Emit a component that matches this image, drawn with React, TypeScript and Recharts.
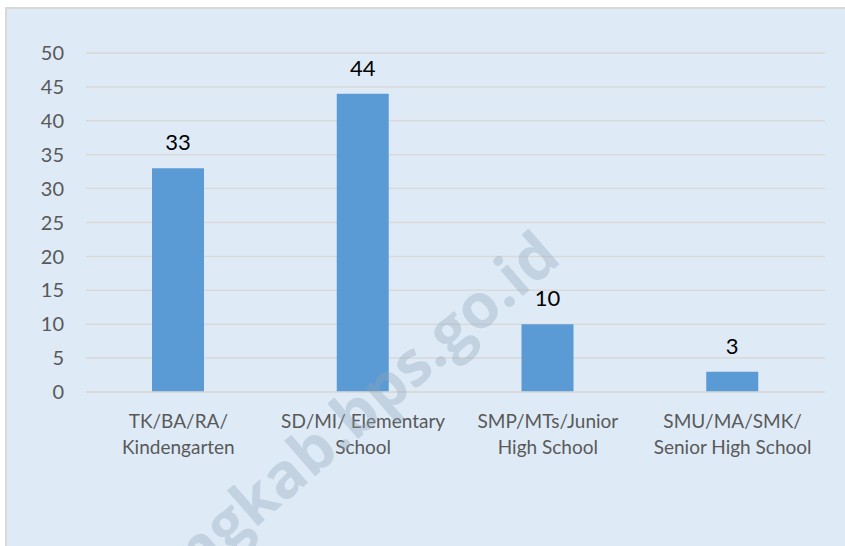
import { BarChart, Bar, XAxis, YAxis, CartesianGrid, LabelList } from "recharts";

const categories = [
  "TK/BA/RA/\nKindengarten",
  "SD/MI/ Elementary\nSchool",
  "SMP/MTs/Junior\nHigh School",
  "SMU/MA/SMK/\nSenior High School",
];
const values = [33, 44, 10, 3];
const yTicks = [0, 5, 10, 15, 20, 25, 30, 35, 40, 45, 50];
const edgeTicks = [0, 1, 2, 3, 4];

const data = categories.map((name, i) => ({ name, value: values[i], edge: i }));

const FONT = "Lato, 'Open Sans', sans-serif";

function CategoryTick(props: any) {
  const { x, y, payload } = props;
  const lines = String(payload.value).split("\n");
  return (
    <g>
      {lines.map((line, i) => (
        <text
          key={i}
          x={x}
          y={y + 28 + i * 26}
          textAnchor="middle"
          fill="#595959"
          fontSize={19}
          fontFamily={FONT}
        >
          {line}
        </text>
      ))}
    </g>
  );
}

export default function App() {
  return (
    <div style={{ position: "fixed", left: 0, top: 0, width: 845, height: 546, background: "#fff", overflow: "hidden" }}>
      <div
        style={{
          position: "absolute",
          left: 5,
          top: 7,
          width: 840,
          height: 539,
          background: "#deebf7",
          borderTop: "2px solid #d9d9d9",
          borderLeft: "2px solid #d9d9d9",
          boxSizing: "border-box",
        }}
      >
        <BarChart
          width={838}
          height={537}
          data={data}
          margin={{ top: 44, right: 20, left: 39, bottom: 124 }}
          barCategoryGap={0}
        >
          <CartesianGrid vertical={false} stroke="#d9d9d9" strokeWidth={1.5} />
          <XAxis
            dataKey="name"
            xAxisId="cat"
            interval={0}
            height={30}
            tick={<CategoryTick />}
            tickLine={false}
            axisLine={{ stroke: "#d9d9d9", strokeWidth: 1.5 }}
          />
          <XAxis
            xAxisId="edge"
            type="number"
            dataKey="edge"
            domain={[0, 4]}
            ticks={edgeTicks}
            mirror
            height={0}
            tickSize={6}
            tick={{ fill: "none" }}
            tickLine={{ stroke: "#d9d9d9", strokeWidth: 1.5 }}
            axisLine={false}
          />
          <YAxis
            domain={[0, 50]}
            ticks={yTicks}
            interval={0}
            width={40}
            tickLine={false}
            axisLine={false}
            dx={-14}
            tick={{ fill: "#595959", fontSize: 20, fontFamily: FONT }}
          />
          <Bar xAxisId="cat" dataKey="value" fill="#5b9bd5" barSize={52} isAnimationActive={false}>
            <LabelList
              dataKey="value"
              position="top"
              offset={18}
              fill="#000"
              fontSize={22}
              fontFamily={FONT}
            />
          </Bar>
        </BarChart>
        <svg
          width={838}
          height={537}
          style={{ position: "absolute", left: 0, top: 0, pointerEvents: "none" }}
        >
          <text
            x={556}
            y={252}
            textAnchor="end"
            transform="rotate(-41 556 252)"
            fontSize={62}
            fontWeight="bold"
            fontFamily="'Open Sans', sans-serif"
            fill="#8ea4b8"
            fillOpacity={0.35}
          >
            ngkab.bps.go.id
          </text>
        </svg>
      </div>
    </div>
  );
}
